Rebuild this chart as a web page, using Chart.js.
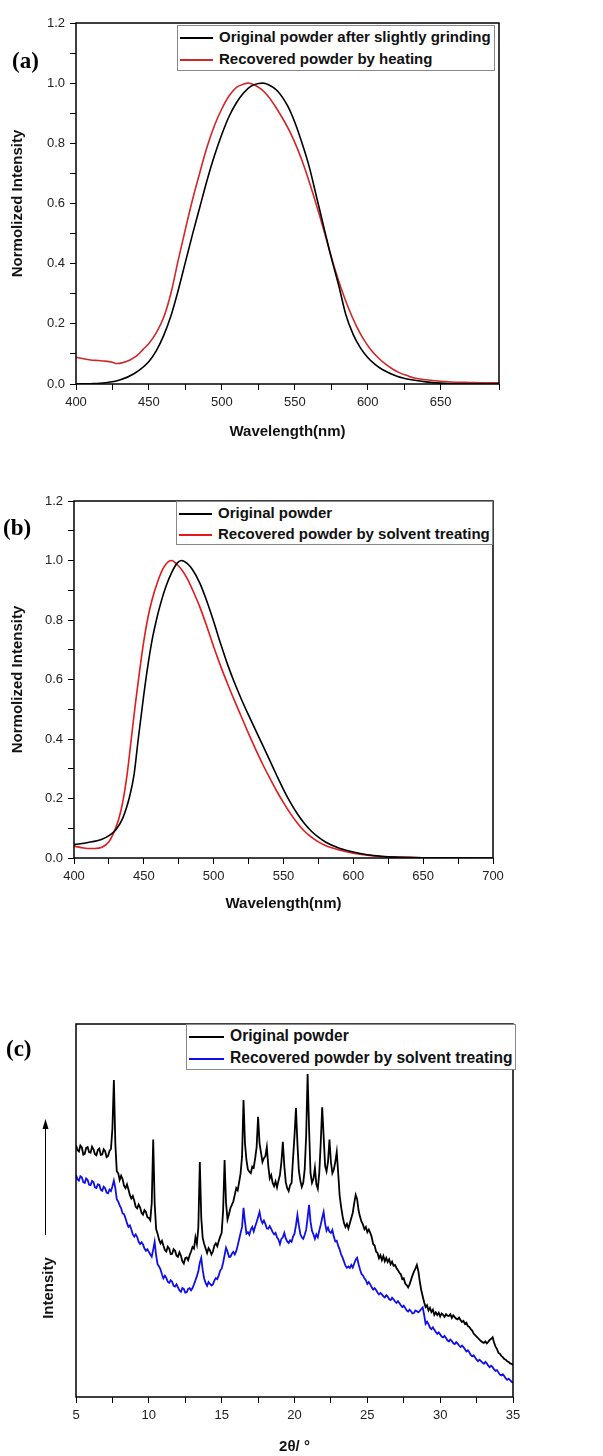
<!DOCTYPE html>
<html>
<head>
<meta charset="utf-8">
<script src="https://cdn.jsdelivr.net/npm/chart.js@4.4.1/dist/chart.umd.min.js"></script>
<style>
  body { margin: 0; background: #fff; width: 603px; height: 1456px; position: relative; overflow: hidden; font-family: Arial, "Liberation Sans", sans-serif; }
  canvas { position: absolute; left: 0; }
  .tag { position: absolute; font-family: "Times New Roman", "Liberation Serif", serif; font-weight: bold; font-size: 23px; line-height: 1; }
  .legend { position: absolute; border: 1px solid #888; background: #fff; font-weight: bold; color: #111; }
  .legend div { white-space: nowrap; }
  .legend span { display: inline-block; height: 2px; vertical-align: middle; margin: 0 6px 0 2px; }
</style>
</head>
<body>
<canvas id="chartA" width="603" height="460" style="top:0"></canvas>
<canvas id="chartB" width="603" height="470" style="top:460px"></canvas>
<canvas id="chartC" width="603" height="526" style="top:930px"></canvas>

<div class="tag" style="left:12px;top:49px">(a)</div>
<div class="tag" style="left:3px;top:516px">(b)</div>
<div class="tag" style="left:6px;top:1037px">(c)</div>

<div class="legend" id="legA" style="left:177px;top:25px;width:316px;font-size:15px"></div>
<div class="legend" id="legB" style="left:176px;top:501px;width:315px;font-size:15px"></div>
<div class="legend" id="legC" style="left:186px;top:1024px;width:328px;font-size:15.6px"></div>

<script>
// (a) emission spectra, original vs heated
var aBlackX = [400,410,420,430,440,450,455,460,465,470,475,480,485,490,495,500,505,510,515,520,525,528,532,538,545,550,555,560,565,570,575,580,585,590,595,600,605,610,620,630,640,650,660,675,690];
var aBlackY = [0,0.001,0.004,0.013,0.035,0.075,0.11,0.16,0.225,0.31,0.405,0.50,0.59,0.68,0.76,0.83,0.89,0.935,0.968,0.99,0.999,1.0,0.995,0.975,0.925,0.87,0.80,0.72,0.62,0.52,0.42,0.33,0.23,0.165,0.12,0.088,0.065,0.048,0.026,0.014,0.007,0.003,0.001,0.0005,0];
var aRedX = [400,405,410,415,420,425,428,432,437,442,446,450,455,460,465,470,475,480,485,490,495,500,505,510,515,518,522,527,532,537,542,547,552,557,562,567,572,577,582,587,592,597,602,607,612,617,622,627,632,640,650,660,670,680,690];
var aRedY = [0.089,0.084,0.08,0.078,0.076,0.072,0.068,0.071,0.08,0.095,0.115,0.135,0.17,0.22,0.30,0.41,0.515,0.615,0.705,0.79,0.86,0.915,0.958,0.986,0.997,1.0,0.995,0.98,0.955,0.92,0.88,0.835,0.78,0.715,0.64,0.56,0.475,0.39,0.315,0.25,0.195,0.15,0.115,0.088,0.067,0.05,0.037,0.028,0.02,0.014,0.009,0.006,0.005,0.004,0.004];

// (b) emission spectra, original vs solvent treated
var bBlackX = [400,410,420,425,430,435,440,443,446,450,453,456,459,462,466,470,474,477,481,485,490,495,500,505,510,515,520,525,530,535,540,545,550,555,560,565,570,575,580,590,600,610,620,630,650,700];
var bBlackY = [0.045,0.052,0.063,0.075,0.095,0.135,0.21,0.28,0.40,0.55,0.65,0.735,0.80,0.855,0.915,0.96,0.992,1.0,0.99,0.968,0.925,0.865,0.795,0.72,0.65,0.588,0.532,0.48,0.43,0.38,0.33,0.279,0.23,0.186,0.148,0.116,0.09,0.07,0.054,0.033,0.02,0.011,0.006,0.003,0.001,0];
var bRedX = [400,405,410,415,420,425,428,432,435,438,441,444,447,450,453,456,460,464,468,470,473,477,481,485,490,495,500,505,510,515,520,525,530,535,540,545,550,555,560,565,570,575,580,590,600,610,620,630,650,700];
var bRedY = [0.04,0.035,0.032,0.032,0.036,0.055,0.08,0.13,0.19,0.28,0.40,0.52,0.63,0.73,0.81,0.87,0.93,0.975,0.998,1.0,0.99,0.97,0.94,0.90,0.845,0.78,0.71,0.645,0.585,0.528,0.473,0.418,0.366,0.316,0.27,0.226,0.186,0.149,0.117,0.09,0.07,0.054,0.042,0.027,0.016,0.009,0.005,0.003,0.001,0];

// (c) XRD patterns, one row per degree
var xrdX = [
  5.0,5.1,5.2,5.3,5.4,5.5,5.6,5.7,5.8,5.9,
  6.0,6.1,6.2,6.3,6.4,6.5,6.6,6.7,6.8,6.9,
  7.0,7.1,7.2,7.3,7.4,7.5,7.6,7.7,7.8,7.9,
  8.0,8.1,8.2,8.3,8.4,8.5,8.6,8.7,8.8,8.9,
  9.0,9.1,9.2,9.3,9.4,9.5,9.6,9.7,9.8,9.9,
  10.0,10.1,10.2,10.3,10.4,10.5,10.6,10.7,10.8,10.9,
  11.0,11.1,11.2,11.3,11.4,11.5,11.6,11.7,11.8,11.9,
  12.0,12.1,12.2,12.3,12.4,12.5,12.6,12.7,12.8,12.9,
  13.0,13.1,13.2,13.3,13.4,13.5,13.6,13.7,13.8,13.9,
  14.0,14.1,14.2,14.3,14.4,14.5,14.6,14.7,14.8,14.9,
  15.0,15.1,15.2,15.3,15.4,15.5,15.6,15.7,15.8,15.9,
  16.0,16.1,16.2,16.3,16.4,16.5,16.6,16.7,16.8,16.9,
  17.0,17.1,17.2,17.3,17.4,17.5,17.6,17.7,17.8,17.9,
  18.0,18.1,18.2,18.3,18.4,18.5,18.6,18.7,18.8,18.9,
  19.0,19.1,19.2,19.3,19.4,19.5,19.6,19.7,19.8,19.9,
  20.0,20.1,20.2,20.3,20.4,20.5,20.6,20.7,20.8,20.9,
  21.0,21.1,21.2,21.3,21.4,21.5,21.6,21.7,21.8,21.9,
  22.0,22.1,22.2,22.3,22.4,22.5,22.6,22.7,22.8,22.9,
  23.0,23.1,23.2,23.3,23.4,23.5,23.6,23.7,23.8,23.9,
  24.0,24.1,24.2,24.3,24.4,24.5,24.6,24.7,24.8,24.9,
  25.0,25.1,25.2,25.3,25.4,25.5,25.6,25.7,25.8,25.9,
  26.0,26.1,26.2,26.3,26.4,26.5,26.6,26.7,26.8,26.9,
  27.0,27.1,27.2,27.3,27.4,27.5,27.6,27.7,27.8,27.9,
  28.0,28.1,28.2,28.3,28.4,28.5,28.6,28.7,28.8,28.9,
  29.0,29.1,29.2,29.3,29.4,29.5,29.6,29.7,29.8,29.9,
  30.0,30.1,30.2,30.3,30.4,30.5,30.6,30.7,30.8,30.9,
  31.0,31.1,31.2,31.3,31.4,31.5,31.6,31.7,31.8,31.9,
  32.0,32.1,32.2,32.3,32.4,32.5,32.6,32.7,32.8,32.9,
  33.0,33.1,33.2,33.3,33.4,33.5,33.6,33.7,33.8,33.9,
  34.0,34.1,34.2,34.3,34.4,34.5,34.6,34.7,34.8,34.9,
  35.0
];
var xrdOriginal = [
  67.5,66.2,65.8,67.4,66.9,65.0,65.2,66.8,67.0,65.6,
  65.5,67.1,66.4,65.1,64.8,66.2,66.6,64.9,65.0,66.4,
  65.9,64.3,64.6,66.0,66.5,72.0,85.0,68.0,60.5,60.0,
  58.2,59.3,58.4,56.6,56.0,57.0,55.6,54.1,53.2,53.9,
  52.6,51.0,50.6,51.6,50.8,49.4,48.9,50.1,49.6,48.2,
  48.0,47.4,52.0,69.0,52.0,45.0,43.8,42.2,41.2,41.9,
  40.6,39.4,39.0,40.3,39.8,38.3,38.4,39.6,39.2,37.9,
  37.6,38.8,37.9,36.4,35.8,37.2,37.4,36.7,38.0,39.0,
  40.2,39.8,42.8,41.0,45.5,63.0,48.0,42.6,41.0,39.8,
  38.6,39.9,39.3,38.2,39.0,40.6,41.2,40.4,41.8,43.0,
  44.0,50.0,63.5,52.0,47.6,49.0,50.6,51.5,52.4,54.2,
  56.0,55.4,57.6,60.0,64.5,79.6,68.0,63.6,61.0,60.4,
  60.0,61.8,61.5,64.0,67.0,75.1,68.0,65.5,63.0,64.0,
  64.5,67.0,62.0,58.6,59.5,57.4,56.5,57.8,56.2,58.0,
  59.5,63.0,68.4,62.0,57.6,56.0,55.2,56.8,57.4,64.0,
  70.0,77.5,68.0,60.6,58.0,56.3,57.4,61.0,70.0,86.6,
  72.0,60.0,57.4,58.5,61.4,57.0,55.8,60.0,68.0,77.7,
  70.0,62.0,60.5,63.0,69.0,63.0,60.0,61.0,63.0,65.7,
  60.0,54.0,51.0,48.5,46.6,45.6,46.4,45.2,46.6,48.0,
  49.4,52.0,54.2,53.0,50.0,48.3,47.0,46.2,45.0,45.6,
  44.2,44.9,44.0,42.9,41.0,40.6,39.0,38.6,37.2,38.0,
  36.7,37.8,36.4,37.3,36.2,36.9,35.6,36.3,35.2,35.4,
  34.6,34.0,33.3,32.9,31.6,31.8,30.4,30.0,29.4,30.2,
  31.4,32.6,33.6,34.4,35.4,33.8,31.0,28.7,27.0,25.4,
  24.1,24.6,23.2,23.9,22.8,23.4,22.0,22.7,22.0,22.6,
  21.6,22.4,22.0,21.5,22.2,21.8,21.7,22.2,21.2,21.9,
  21.4,21.0,20.8,21.3,20.6,20.1,20.4,19.6,19.9,19.0,
  18.8,18.2,17.8,17.0,16.6,16.2,15.8,15.4,15.0,14.7,
  14.5,14.9,14.4,14.8,15.3,15.6,16.0,14.6,13.5,12.9,
  11.8,11.6,11.0,10.7,10.2,10.0,9.6,9.4,9.0,8.9,
  8.6
];
var xrdRecovered = [
  59.5,58.4,58.0,59.2,58.9,57.6,57.4,58.6,58.2,56.9,
  56.8,57.9,57.6,56.2,56.0,57.0,56.9,55.6,55.3,56.4,
  56.0,54.8,54.6,55.6,55.2,56.5,58.0,56.0,53.0,52.4,
  51.4,50.6,49.2,49.0,47.9,46.6,45.6,46.0,44.9,43.6,
  43.0,43.6,42.9,41.6,41.0,41.5,40.9,39.8,39.2,39.6,
  38.9,38.2,37.6,39.5,41.6,38.0,35.6,35.0,34.2,32.9,
  31.8,32.5,31.9,30.9,30.6,31.3,30.9,29.8,29.6,30.2,
  29.4,28.6,28.2,29.2,29.0,28.0,28.1,29.0,29.2,28.6,
  29.2,30.2,31.3,32.4,33.8,36.0,37.3,34.0,31.7,30.6,
  29.8,30.8,30.3,29.9,30.2,31.2,31.9,31.6,32.6,33.9,
  34.4,36.0,38.0,40.0,39.0,37.6,37.6,38.4,38.9,38.2,
  39.1,40.6,42.3,44.0,45.6,50.7,47.0,43.8,44.2,43.5,
  44.9,45.6,44.4,45.7,46.9,48.2,49.6,47.5,46.6,47.3,
  46.4,45.2,45.1,45.8,45.1,44.2,43.6,44.0,42.8,42.2,
  41.0,42.4,42.8,44.0,42.5,41.7,41.3,42.0,41.6,43.0,
  43.8,46.0,48.8,46.0,43.7,42.8,42.4,43.5,44.8,48.0,
  51.5,47.0,44.6,43.6,42.4,43.6,42.8,44.6,46.2,48.0,
  49.6,46.5,44.6,45.4,44.3,44.0,44.8,43.0,41.7,41.9,
  40.5,39.6,38.2,37.4,36.3,35.2,34.6,35.0,34.6,35.4,
  34.7,35.8,36.8,37.3,35.6,34.2,33.0,32.6,31.8,31.3,
  30.3,30.8,30.2,29.4,28.8,29.2,28.7,28.0,27.5,27.9,
  27.5,27.0,26.7,27.3,26.9,26.2,26.0,26.6,26.2,25.6,
  25.2,25.7,25.2,24.6,24.1,24.5,23.9,23.2,22.9,23.4,
  23.0,22.4,22.5,23.2,23.0,22.7,23.1,23.6,24.0,22.0,
  19.6,20.2,19.5,18.6,18.2,18.7,18.0,17.4,16.9,17.3,
  16.8,16.2,16.0,16.4,15.8,15.2,14.9,15.4,15.0,14.4,
  14.2,14.7,14.3,13.8,13.4,13.8,13.4,12.8,12.2,12.5,
  12.0,11.3,10.9,11.2,10.6,10.0,9.6,10.0,9.6,9.2,
  8.9,9.4,9.0,8.4,8.0,8.4,8.0,7.4,7.0,7.2,
  6.6,6.0,5.8,6.1,5.6,5.0,4.6,4.9,4.5,4.1,
  3.8
];

Chart.defaults.font.family = 'Arial, "Liberation Sans", sans-serif';
Chart.defaults.color = '#222';

function pts(xs, ys) {
  return xs.map(function (x, i) { return { x: x, y: ys[i] }; });
}

// box round the plot area
var frame = {
  id: 'frame',
  afterDatasetsDraw: function (chart) {
    var a = chart.chartArea, c = chart.ctx;
    c.save();
    c.strokeStyle = '#000';
    c.lineWidth = 1.5;
    c.strokeRect(a.left, a.top, a.right - a.left, a.bottom - a.top);
    c.restore();
  }
};

var tickGrid = { drawOnChartArea: false, drawTicks: true, tickLength: 6, color: '#000', tickColor: '#000' };

function spectrum(id, sets, xmax, pad, yWidth, xHeight, titlePad) {
  return new Chart(document.getElementById(id), {
    type: 'line',
    data: { datasets: sets },
    options: {
      responsive: false,
      animation: false,
      devicePixelRatio: 1,
      layout: { padding: pad },
      plugins: { legend: { display: false }, tooltip: { enabled: false } },
      elements: { point: { radius: 0 }, line: { borderWidth: 1.6, cubicInterpolationMode: 'monotone' } },
      scales: {
        x: {
          type: 'linear', min: 400, max: xmax,
          border: { display: false },
          grid: tickGrid,
          ticks: {
            stepSize: 25, autoSkip: false, maxRotation: 0, padding: 5, font: { size: 13 },
            callback: function (v) { return v % 50 === 0 ? String(v) : ''; }
          },
          title: { display: true, text: 'Wavelength(nm)', color: '#111', font: { size: 15, weight: 'bold' }, padding: { top: 0, bottom: titlePad } },
          afterFit: function (s) { s.height = xHeight; }
        },
        y: {
          min: 0, max: 1.2,
          border: { display: false },
          grid: tickGrid,
          ticks: {
            stepSize: 0.1, autoSkip: false, padding: 5, font: { size: 13 },
            callback: function (v) { var t = Math.round(v * 10); return t % 2 === 0 ? (t / 10).toFixed(1) : ''; }
          },
          title: { display: true, text: 'Normolized Intensity', color: '#111', font: { size: 15, weight: 'bold' }, padding: { top: 9, bottom: 0 } },
          afterFit: function (s) { s.width = yWidth; }
        }
      }
    },
    plugins: [frame]
  });
}

var chartA = spectrum('chartA', [
  { label: 'Original powder after slightly grinding', data: pts(aBlackX, aBlackY), borderColor: '#000' },
  { label: 'Recovered powder by heating', data: pts(aRedX, aRedY), borderColor: '#d02828' }
], 690, { top: 23, right: 104, left: 0, bottom: 0 }, 76, 76, 19);

var chartB = spectrum('chartB', [
  { label: 'Original powder', data: pts(bBlackX, bBlackY), borderColor: '#000' },
  { label: 'Recovered powder by solvent treating', data: pts(bRedX, bRedY), borderColor: '#e3191c' }
], 700, { top: 41, right: 110, left: 0, bottom: 0 }, 74, 72, 17);

// arrow and rotated "Intensity" left of panel (c)
var intensityLabel = {
  id: 'intensityLabel',
  afterDraw: function (chart) {
    var c = chart.ctx;
    c.save();
    c.strokeStyle = '#000';
    c.fillStyle = '#000';
    c.lineWidth = 1;
    c.beginPath(); c.moveTo(45.5, 305); c.lineTo(45.5, 196); c.stroke();
    c.beginPath(); c.moveTo(45.5, 189); c.lineTo(42.5, 199); c.lineTo(48.5, 199); c.closePath(); c.fill();
    c.translate(49, 358);
    c.rotate(-Math.PI / 2);
    c.font = 'bold 15px Arial, "Liberation Sans", sans-serif';
    c.textAlign = 'center';
    c.textBaseline = 'middle';
    c.fillStyle = '#111';
    c.fillText('Intensity', 0, 0);
    c.restore();
  }
};

var chartC = new Chart(document.getElementById('chartC'), {
  type: 'line',
  data: {
    datasets: [
      { label: 'Original powder', data: pts(xrdX, xrdOriginal), borderColor: '#000' },
      { label: 'Recovered powder by solvent treating', data: pts(xrdX, xrdRecovered), borderColor: '#1010e6' }
    ]
  },
  options: {
    responsive: false,
    animation: false,
    devicePixelRatio: 1,
    layout: { padding: { top: 94, right: 90, left: 76, bottom: 0 } },
    plugins: { legend: { display: false }, tooltip: { enabled: false } },
    elements: { point: { radius: 0 }, line: { borderWidth: 1.8, tension: 0 } },
    scales: {
      x: {
        type: 'linear', min: 5, max: 35,
        border: { display: false },
        grid: tickGrid,
        ticks: {
          stepSize: 2.5, autoSkip: false, maxRotation: 0, padding: 5, font: { size: 13 },
          callback: function (v) { return v % 5 === 0 ? String(v) : ''; }
        },
        title: { display: true, text: '2θ/ °', color: '#111', font: { size: 15, weight: 'bold' }, padding: { top: 0, bottom: 0 } },
        afterFit: function (s) { s.height = 59; }
      },
      y: { display: false, min: 0, max: 100 }
    }
  },
  plugins: [frame, intensityLabel]
});

// legends drawn in html from each chart's datasets
function legend(chart, id, rowH, lineW) {
  var box = document.getElementById(id);
  chart.data.datasets.forEach(function (ds) {
    var row = document.createElement('div');
    row.style.height = rowH + 'px';
    row.style.lineHeight = rowH + 'px';
    var sw = document.createElement('span');
    sw.style.width = lineW + 'px';
    sw.style.background = ds.borderColor;
    row.appendChild(sw);
    row.appendChild(document.createTextNode(ds.label));
    box.appendChild(row);
  });
}
legend(chartA, 'legA', 22, 33);
legend(chartB, 'legB', 21, 33);
legend(chartC, 'legC', 22, 35);
</script>
</body>
</html>
